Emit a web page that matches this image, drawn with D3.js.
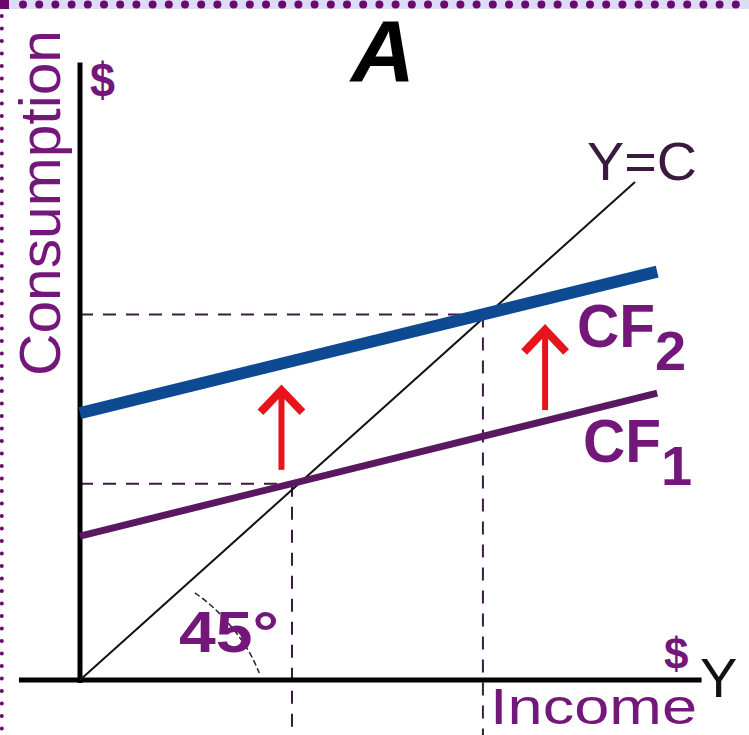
<!DOCTYPE html>
<html>
<head>
<meta charset="utf-8">
<script src="https://cdn.jsdelivr.net/npm/d3@7"></script>
<style>
  body { margin: 0; background: #fff; }
  svg { display: block; font-family: "Liberation Sans", Arial, sans-serif; }
</style>
</head>
<body>
<script>
// values (income / consumption units, 45 degree line = y=x)
var incomeExtent = [-11, 112];
var consumptionExtent = [0, 124];
var ycIncome = [0, 100];
var ycConsumption = [0, 100];
var cfIncome = [0, 104];
var cf1Values = [28.9, 57.6];
var cf2Values = [53.6, 82.0];
var eqIncome = [38.2, 72.6];
var eqConsumption = [39.4, 73.4];
var arrowIncome = [36.3, 83.8];
var arrowFrom = [42.2, 54.2];
var arrowTo = [58.8, 70.9];
var angleMark = [[20.7, 17.5], [25, 14], [30.4, 6.4], [32.3, 1.4]];

var W = 749, H = 735;

var svg = d3.select("body").append("svg")
    .attr("width", W)
    .attr("height", H);

var x = d3.scaleLinear().domain([0, 100]).range([80, 635]);
var y = d3.scaleLinear().domain([0, 100]).range([680, 182]);

// frame: lavender band with dots on top, dotted strip on the left
svg.append("rect").attr("x", 0).attr("y", 0).attr("width", W).attr("height", 9).attr("fill", "#dcdcf6");
svg.append("rect").attr("x", 0).attr("y", 0).attr("width", 9).attr("height", 9).attr("fill", "#6a0a6e");
svg.append("g").selectAll("circle")
    .data(d3.range(23, W, 16.2))
    .enter().append("circle")
    .attr("cx", function (d) { return d; })
    .attr("cy", 4.5)
    .attr("r", 4)
    .attr("fill", "#6a0a6e");
svg.append("g").selectAll("circle")
    .data(d3.range(16, H, 12.5))
    .enter().append("circle")
    .attr("cx", 1.8)
    .attr("cy", function (d) { return d; })
    .attr("r", 2)
    .attr("fill", "#6a0a6e");

// dashed guide lines
var guides = svg.append("g")
    .attr("stroke", "#3a1c42")
    .attr("stroke-width", 2)
    .attr("stroke-dasharray", "13,10");
eqIncome.forEach(function (inc, i) {
    guides.append("line")
        .attr("x1", x(0)).attr("x2", x(inc))
        .attr("y1", y(eqConsumption[i])).attr("y2", y(eqConsumption[i]));
    guides.append("line")
        .attr("x1", x(inc)).attr("x2", x(inc))
        .attr("y1", y(eqConsumption[i])).attr("y2", H);
});

// axes
svg.append("line")
    .attr("x1", x(0)).attr("x2", x(0))
    .attr("y1", y(consumptionExtent[1])).attr("y2", y(0) + 3)
    .attr("stroke", "#000").attr("stroke-width", 5);
svg.append("line")
    .attr("x1", x(incomeExtent[0])).attr("x2", x(incomeExtent[1]))
    .attr("y1", y(0)).attr("y2", y(0))
    .attr("stroke", "#000").attr("stroke-width", 5);

var line = d3.line()
    .x(function (d) { return x(d[0]); })
    .y(function (d) { return y(d[1]); });

// 45 degree line
svg.append("path")
    .attr("d", line(d3.zip(ycIncome, ycConsumption)))
    .attr("stroke", "#111").attr("stroke-width", 2).attr("fill", "none");

// consumption functions
svg.append("path")
    .attr("d", line(d3.zip(cfIncome, cf1Values)))
    .attr("stroke", "#5a1860").attr("stroke-width", 7).attr("fill", "none");
svg.append("path")
    .attr("d", line(d3.zip(cfIncome, cf2Values)))
    .attr("stroke", "#0d4a92").attr("stroke-width", 12).attr("fill", "none");

// angle mark
svg.append("path")
    .attr("d", line.curve(d3.curveBasis)(angleMark))
    .attr("stroke", "#222").attr("stroke-width", 1.5)
    .attr("stroke-dasharray", "6,3").attr("fill", "none");

// red shift arrows
arrowIncome.forEach(function (inc, i) {
    var ax = x(inc), y0 = y(arrowFrom[i]), y1 = y(arrowTo[i]);
    svg.append("line")
        .attr("x1", ax).attr("x2", ax)
        .attr("y1", y0).attr("y2", y1 + 8)
        .attr("stroke", "#e8141c").attr("stroke-width", 6);
    svg.append("path")
        .attr("d", "M" + (ax - 21) + "," + (y1 + 25) + "L" + ax + "," + (y1 + 3) + "L" + (ax + 21) + "," + (y1 + 25))
        .attr("stroke", "#e8141c").attr("stroke-width", 8)
        .attr("stroke-linejoin", "miter").attr("fill", "none");
});

// texts
var purple = "#74177a";

svg.append("text")
    .attr("x", 383).attr("y", 81)
    .attr("text-anchor", "middle")
    .attr("font-size", 88).attr("font-weight", "bold").attr("font-style", "italic")
    .attr("fill", "#000")
    .attr("textLength", 64).attr("lengthAdjust", "spacingAndGlyphs")
    .text("A");

svg.append("text")
    .attr("transform", "translate(60,203) rotate(-90)")
    .attr("text-anchor", "middle")
    .attr("font-size", 58)
    .attr("fill", purple)
    .attr("textLength", 346).attr("lengthAdjust", "spacingAndGlyphs")
    .text("Consumption");

svg.append("text")
    .attr("x", 90).attr("y", 96)
    .attr("font-size", 48).attr("font-weight", "bold")
    .attr("fill", purple)
    .attr("textLength", 25).attr("lengthAdjust", "spacingAndGlyphs")
    .text("$");

svg.append("text")
    .attr("x", 587).attr("y", 180)
    .attr("font-size", 53)
    .attr("fill", "#3a1a3e")
    .attr("textLength", 110).attr("lengthAdjust", "spacingAndGlyphs")
    .text("Y=C");

function cfLabel(tx, ty, sub) {
    var t = svg.append("text")
        .attr("x", tx).attr("y", ty)
        .attr("font-size", 62).attr("font-weight", "bold")
        .attr("fill", purple);
    t.append("tspan").attr("textLength", 78).attr("lengthAdjust", "spacingAndGlyphs").text("CF");
    t.append("tspan").attr("dy", 23).attr("font-size", 56).text(sub);
}
cfLabel(577, 347, "2");
cfLabel(583, 462, "1");

svg.append("text")
    .attr("x", 179).attr("y", 652)
    .attr("font-size", 58).attr("font-weight", "bold")
    .attr("fill", purple)
    .attr("textLength", 100).attr("lengthAdjust", "spacingAndGlyphs")
    .text("45°");

svg.append("text")
    .attr("x", 664).attr("y", 669)
    .attr("font-size", 44).attr("font-weight", "bold")
    .attr("fill", purple)
    .text("$");

svg.append("text")
    .attr("x", 700).attr("y", 697)
    .attr("font-size", 56)
    .attr("fill", "#111")
    .text("Y");

svg.append("text")
    .attr("x", 490).attr("y", 724)
    .attr("font-size", 50)
    .attr("fill", purple)
    .attr("textLength", 207).attr("lengthAdjust", "spacingAndGlyphs")
    .text("Income");
</script>
</body>
</html>
